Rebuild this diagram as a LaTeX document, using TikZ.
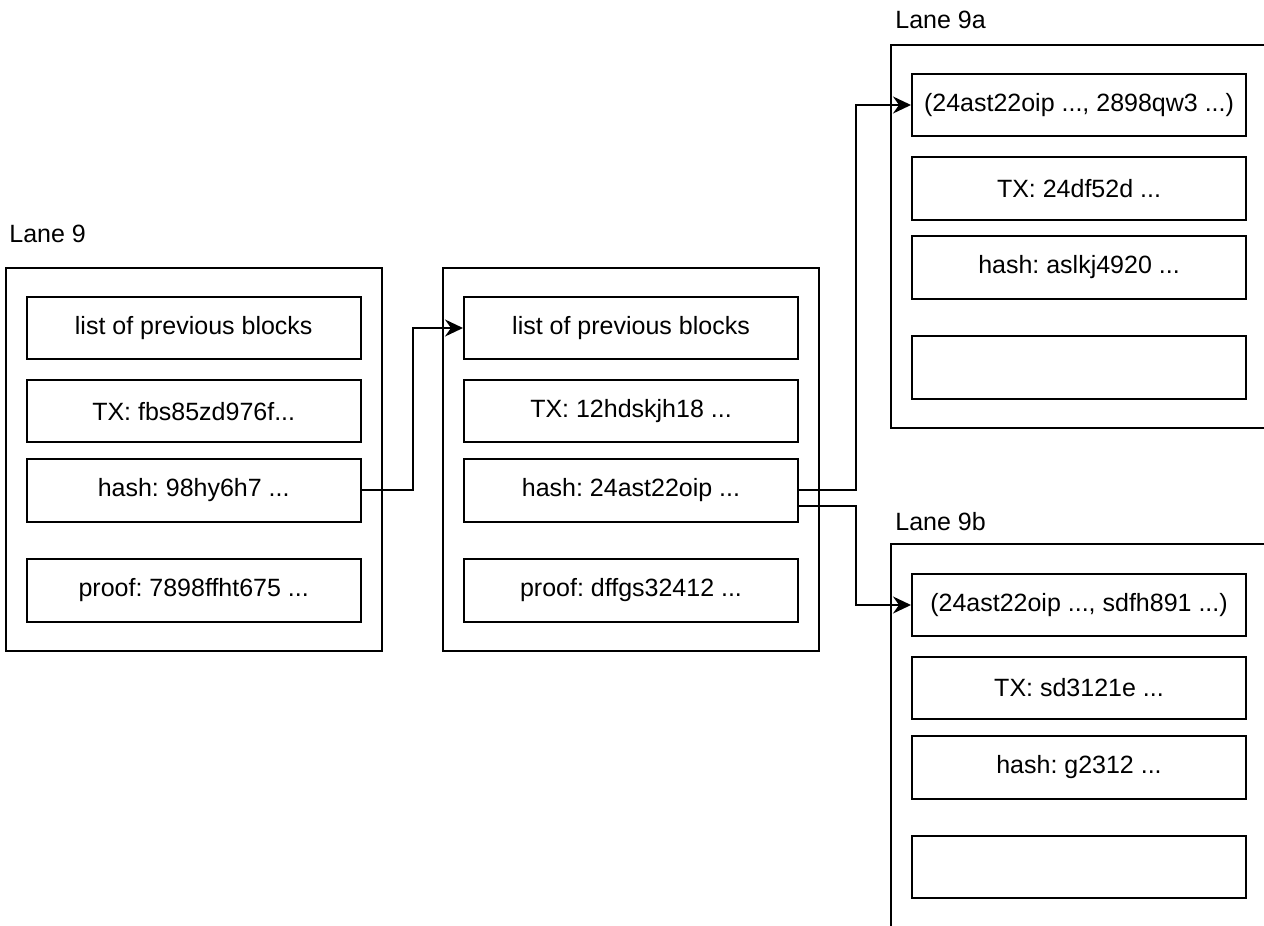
\documentclass[tikz,border=0pt]{standalone}
\usepackage{fontspec}
\setmainfont{Liberation Sans}
\usetikzlibrary{arrows.meta}
\frenchspacing
\tikzset{
  blockframe/.style={draw, line width=1pt, minimum width=188pt, minimum height=191.5pt, inner sep=0pt},
  field/.style={draw, line width=1pt, minimum width=167pt, minimum height=31.25pt, inner sep=0pt,
    font=\fontsize{12.5}{15}\selectfont},
  lanelabel/.style={anchor=base west, inner sep=0pt, font=\fontsize{12.5}{15}\selectfont},
  link/.style={line width=1pt, -{Stealth[length=9pt,width=8.5pt,inset=3pt]}},
}
\begin{document}
\begin{tikzpicture}[x=0.5pt,y=-0.5pt]
\useasboundingbox (0,0) rectangle (1264,926);
\clip (0,0) rectangle (1264,926);

% lane titles
\node[lanelabel] (t9)  at (9,242.7)   {Lane 9};
\node[lanelabel] (t9a) at (895,28.3)  {Lane 9a};
\node[lanelabel] (t9b) at (895,530)   {Lane 9b};

% block frames
\node[blockframe] (blkA) at (193.6,459.2) {};
\node[blockframe] (blkB) at (631.2,459)   {};
\node[blockframe] (blkC) at (1079,236)    {};
\node[blockframe] (blkD) at (1079,735.8)  {};

% lane 9, first block
\node[field] (l1) at (193.7,328)   {list of previous blocks};
\node[field] (x1) at (193.7,411.2) {TX: fbs85zd976f...};
\node[field] (h1) at (193.7,490.3) {hash: 98hy6h7 ...};
\node[field] (p1) at (193.7,590.5) {proof: 7898ffht675 ...};

% lane 9, second block
\node[field] (l2) at (631,328)   {list of previous blocks};
\node[field] (x2) at (631,411.2) {TX: 12hdskjh18 ...};
\node[field] (h2) at (631,490.3) {hash: 24ast22oip ...};
\node[field] (p2) at (631,590.5) {proof: dffgs32412 ...};

% lane 9a
\node[field] (a1) at (1079,105)   {(24ast22oip ..., 2898qw3 ...)};
\node[field] (a2) at (1079,188.5) {TX: 24df52d ...};
\node[field] (a3) at (1079,267.5) {hash: aslkj4920 ...};
\node[field] (a4) at (1079,367.5) {};

% lane 9b
\node[field] (b1) at (1079,605)   {(24ast22oip ..., sdfh891 ...)};
\node[field] (b2) at (1079,688)   {TX: sd3121e ...};
\node[field] (b3) at (1079,767.3) {hash: g2312 ...};
\node[field] (b4) at (1079,867)   {};

% hash links
\draw[link] (h1.east) -- ++(51.5,0) |- (l2.west);
\draw[link] (h2.east) -- ++(57,0) |- (a1.west);
\draw[link] ([yshift=-8pt]h2.east) -- ++(57,0) |- (b1.west);
\end{tikzpicture}
\end{document}
